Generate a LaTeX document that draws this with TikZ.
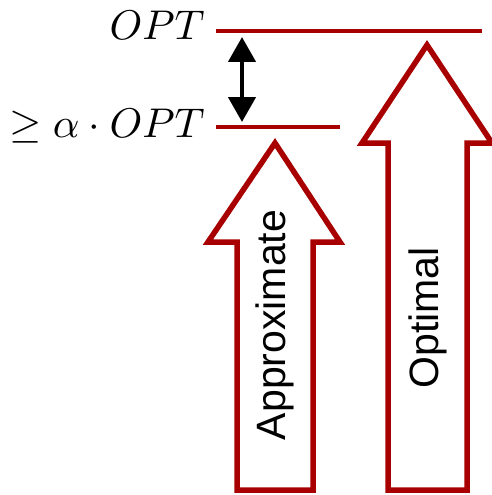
\documentclass[tikz,border=0pt]{standalone}
\usepackage{graphicx}
\usepackage{fontspec}
\newfontfamily\labelfont{Liberation Sans}
\usetikzlibrary{arrows.meta,shadows}
\definecolor{optred}{RGB}{168,0,0}
\tikzset{
  level/.style={draw=optred, line width=4pt},
  bigarrow/.style={draw=optred, fill=white, line width=5.5pt, line join=miter,
    drop shadow={shadow xshift=1.5pt, shadow yshift=-1.5pt, opacity=0.25, fill=black}},
  armlabel/.style={font=\labelfont\fontsize{41}{48}\selectfont, rotate=90, inner sep=0pt},
  mathlabel/.style={anchor=base east, inner sep=0pt},
  gap/.style={line width=4.5pt, {Triangle[width=27pt,length=25pt]}-{Triangle[width=27pt,length=25pt]}}
}
\begin{document}
\begin{tikzpicture}[x=1pt,y=-1pt]
\useasboundingbox (0,0) rectangle (492,495);
% levels
\coordinate (optL) at (216,31);
\coordinate (optR) at (482,31);
\coordinate (apxL) at (216,127);
\coordinate (apxR) at (340,127);
\draw[level] (optL) -- (optR);
\draw[level] (apxL) -- (apxR);
% level labels
\node[mathlabel] (optlab) at (205,40) {\scalebox{4.15}{$OPT$}};
\node[mathlabel] (apxlab) at (205,137) {\scalebox{4.15}{$\geq \alpha \cdot OPT$}};
% gap arrow
\coordinate (gapT) at (242,37);
\coordinate (gapB) at (242,122);
\draw[gap] (gapT) -- (gapB);
% optimal arrow
\path[bigarrow] (427,45) -- (492,143) -- (467,143) -- (467,490) -- (388,490) -- (388,143) -- (362,143) -- cycle;
% approximate arrow
\path[bigarrow] (275,143) -- (340,242) -- (313,242) -- (313,490) -- (237,490) -- (237,242) -- (208,242) -- cycle;
% labels
\node[armlabel] (apxtext) at (275,325) {Approximate};
\node[armlabel] (opttext) at (428,318) {Optimal};
\end{tikzpicture}
\end{document}
